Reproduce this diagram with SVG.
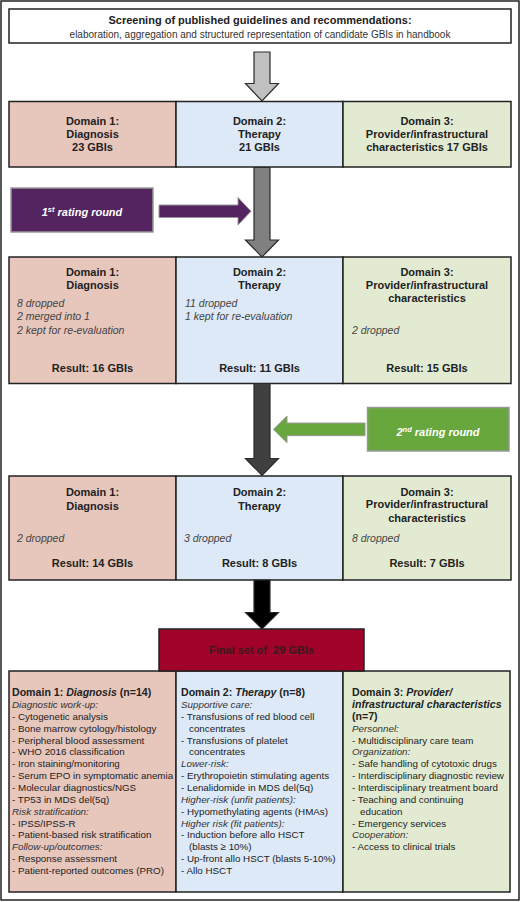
<svg xmlns="http://www.w3.org/2000/svg" width="520" height="902" viewBox="0 0 520 902">
<defs>
<style>
text{font-family:"Liberation Sans",Arial,Helvetica,sans-serif;}
.box{stroke:#222;stroke-width:1.5;}
.d1{fill:#e7c6bc;}
.d2{fill:#dde9f7;}
.d3{fill:#e2ebd2;}
.h{font-size:11px;font-weight:bold;fill:#222;text-anchor:middle;}
.it{font-size:10.5px;font-style:italic;fill:#444;}
.lst{font-size:9.8px;fill:#222;}
.i{font-style:italic;fill:#333;}
.b{font-weight:bold;font-size:10.6px;}
.bi{font-weight:bold;font-style:italic;font-size:10.6px;}
.arr{stroke:#2a2a2a;stroke-width:1.2;stroke-linejoin:miter;}
</style>
</defs>
<rect x="1" y="1" width="518" height="899" fill="#fff" stroke="#222" stroke-width="1.5"/>

<g id="screening">
<rect x="9" y="9" width="502" height="34" fill="#fff" class="box"/>
<text x="260" y="24" class="h">Screening of published guidelines and recommendations:</text>
<text x="260" y="37.5" font-size="10px" fill="#333" text-anchor="middle">elaboration, aggregation and structured representation of candidate GBIs in handbook</text>
</g>

<g id="row1">
<g id="r1d1"><rect x="9" y="101.5" width="167" height="65.5" class="box d1"/>
<text class="h" x="92.5" y="124.7">Domain 1:</text><text class="h" x="92.5" y="138">Diagnosis</text><text class="h" x="92.5" y="151.3">23 GBIs</text></g>
<g id="r1d2"><rect x="176" y="101.5" width="167" height="65.5" class="box d2"/>
<text class="h" x="259.5" y="124.7">Domain 2:</text><text class="h" x="259.5" y="138">Therapy</text><text class="h" x="259.5" y="151.3">21 GBIs</text></g>
<g id="r1d3"><rect x="343" y="101.5" width="168" height="65.5" class="box d3"/>
<text class="h" x="427" y="124.7">Domain 3:</text><text class="h" x="427" y="138">Provider/infrastructural</text><text class="h" x="427" y="151.3">characteristics 17 GBIs</text></g>
</g>

<g id="round1">
<rect x="11" y="188" width="142" height="44" fill="#53245f" stroke="#999" stroke-width="1.5"/>
<text x="82" y="216" fill="#fff" font-size="11px" font-weight="bold" font-style="italic" text-anchor="middle">1<tspan font-size="7.5px" dy="-4">st</tspan><tspan dy="4"> rating round</tspan></text>
</g>

<g id="round2">
<rect x="367.5" y="407.5" width="141.5" height="43.5" fill="#68a73d" stroke="#999" stroke-width="1.5"/>
<text x="438" y="435.5" fill="#fff" font-size="11px" font-weight="bold" font-style="italic" text-anchor="middle">2<tspan font-size="7.5px" dy="-4">nd</tspan><tspan dy="4"> rating round</tspan></text>
</g>

<g id="row2">
<g id="r2d1"><rect x="9" y="257" width="167" height="126.5" class="box d1"/>
<text class="h" x="92.5" y="275.7">Domain 1:</text><text class="h" x="92.5" y="289">Diagnosis</text>
<text class="it" x="17" y="307">8 dropped</text><text class="it" x="17" y="320.4">2 merged into 1</text><text class="it" x="17" y="333.8">2 kept for re-evaluation</text>
<text class="h" x="92.5" y="371.7">Result: 16 GBIs</text></g>
<g id="r2d2"><rect x="176" y="257" width="167" height="126.5" class="box d2"/>
<text class="h" x="259.5" y="275.7">Domain 2:</text><text class="h" x="259.5" y="289">Therapy</text>
<text class="it" x="185" y="307">11 dropped</text><text class="it" x="185" y="320.4">1 kept for re-evaluation</text>
<text class="h" x="259.5" y="371.7">Result: 11 GBIs</text></g>
<g id="r2d3"><rect x="343" y="257" width="168" height="126.5" class="box d3"/>
<text class="h" x="427" y="275.7">Domain 3:</text><text class="h" x="427" y="289">Provider/infrastructural</text><text class="h" x="427" y="302.3">characteristics</text>
<text class="it" x="352" y="333.8">2 dropped</text>
<text class="h" x="427" y="371.7">Result: 15 GBIs</text></g>
</g>

<g id="row3">
<g id="r3d1"><rect x="9" y="476" width="167" height="104" class="box d1"/>
<text class="h" x="92.5" y="495.7">Domain 1:</text><text class="h" x="92.5" y="510">Diagnosis</text>
<text class="it" x="17" y="542">2 dropped</text>
<text class="h" x="92.5" y="567.3">Result: 14 GBIs</text></g>
<g id="r3d2"><rect x="176" y="476" width="167" height="104" class="box d2"/>
<text class="h" x="259.5" y="495.7">Domain 2:</text><text class="h" x="259.5" y="510">Therapy</text>
<text class="it" x="184" y="542">3 dropped</text>
<text class="h" x="259.5" y="567.3">Result: 8 GBIs</text></g>
<g id="r3d3"><rect x="343" y="476" width="168" height="104" class="box d3"/>
<text class="h" x="427" y="495.7">Domain 3:</text><text class="h" x="427" y="508.3">Provider/infrastructural</text><text class="h" x="427" y="521.7">characteristics</text>
<text class="it" x="352" y="542">8 dropped</text>
<text class="h" x="427" y="567.3">Result: 7 GBIs</text></g>
</g>

<g id="final-lists">
<g id="f1"><rect x="9" y="671" width="167" height="221" class="box d1"/>
<text class="lst" x="12" y="696.2"><tspan class="b">Domain 1: </tspan><tspan class="bi">Diagnosis</tspan><tspan class="b"> (n=14)</tspan>
<tspan x="12" dy="11.85" class="i">Diagnostic work-up:</tspan>
<tspan x="12" dy="11.85">- Cytogenetic analysis</tspan>
<tspan x="12" dy="11.85">- Bone marrow cytology/histology</tspan>
<tspan x="12" dy="11.85">- Peripheral blood assessment</tspan>
<tspan x="12" dy="11.85">- WHO 2016 classification</tspan>
<tspan x="12" dy="11.85">- Iron staining/monitoring</tspan>
<tspan x="12" dy="11.85">- Serum EPO in symptomatic anemia</tspan>
<tspan x="12" dy="11.85">- Molecular diagnostics/NGS</tspan>
<tspan x="12" dy="11.85">- TP53 in MDS del(5q)</tspan>
<tspan x="12" dy="11.85" class="i">Risk stratification:</tspan>
<tspan x="12" dy="11.85">- IPSS/IPSS-R</tspan>
<tspan x="12" dy="11.85">- Patient-based risk stratification</tspan>
<tspan x="12" dy="11.85" class="i">Follow-up/outcomes:</tspan>
<tspan x="12" dy="11.85">- Response assessment</tspan>
<tspan x="12" dy="11.85">- Patient-reported outcomes (PRO)</tspan></text></g>
<g id="f2"><rect x="176" y="671" width="167" height="221" class="box d2"/>
<text class="lst" x="181" y="696.2"><tspan class="b">Domain 2: </tspan><tspan class="bi">Therapy</tspan><tspan class="b"> (n=8)</tspan>
<tspan x="181" dy="11.85" class="i">Supportive care:</tspan>
<tspan x="181" dy="11.85">- Transfusions of red blood cell</tspan>
<tspan x="189" dy="11.85">concentrates</tspan>
<tspan x="181" dy="11.85">- Transfusions of platelet</tspan>
<tspan x="189" dy="11.85">concentrates</tspan>
<tspan x="181" dy="11.85" class="i">Lower-risk:</tspan>
<tspan x="181" dy="11.85">- Erythropoietin stimulating agents</tspan>
<tspan x="181" dy="11.85">- Lenalidomide in MDS del(5q)</tspan>
<tspan x="181" dy="11.85" class="i">Higher-risk (unfit patients):</tspan>
<tspan x="181" dy="11.85">- Hypomethylating agents (HMAs)</tspan>
<tspan x="181" dy="11.85" class="i">Higher risk (fit patients):</tspan>
<tspan x="181" dy="11.85">- Induction before allo HSCT</tspan>
<tspan x="189" dy="11.85">(blasts ≥ 10%)</tspan>
<tspan x="181" dy="11.85">- Up-front allo HSCT (blasts 5-10%)</tspan>
<tspan x="181" dy="11.85">- Allo HSCT</tspan></text></g>
<g id="f3"><rect x="343" y="671" width="167" height="221" class="box d3"/>
<text class="lst" x="352" y="696.2"><tspan class="b">Domain 3: </tspan><tspan class="bi">Provider/</tspan>
<tspan x="352" dy="11.85" class="bi">infrastructural characteristics</tspan>
<tspan x="352" dy="11.85" class="b">(n=7)</tspan>
<tspan x="352" dy="11.85" class="i">Personnel:</tspan>
<tspan x="352" dy="11.85">- Multidisciplinary care team</tspan>
<tspan x="352" dy="11.85" class="i">Organization:</tspan>
<tspan x="352" dy="11.85">- Safe handling of cytotoxic drugs</tspan>
<tspan x="352" dy="11.85">- Interdisciplinary diagnostic review</tspan>
<tspan x="352" dy="11.85">- Interdisciplinary treatment board</tspan>
<tspan x="352" dy="11.85">- Teaching and continuing</tspan>
<tspan x="360" dy="11.85">education</tspan>
<tspan x="352" dy="11.85">- Emergency services</tspan>
<tspan x="352" dy="11.85" class="i">Cooperation:</tspan>
<tspan x="352" dy="11.85">- Access to clinical trials</tspan></text></g>
</g>

<g id="final">
<rect x="159" y="629" width="205" height="42" fill="#a10229" class="box"/>
<text x="261.5" y="654" class="h" fill="#3a1a1e" style="fill:#3a1a1e" xml:space="preserve">Final set of  29 GBIs</text>
</g>

<g id="connectors">
<polygon class="arr" fill="#c0c0c0" points="254,52 270,52 270,83.5 278.5,83.5 262,101 245.5,83.5 254,83.5"/>
<polygon class="arr" fill="#808080" points="254,167.5 270,167.5 270,240 278.5,240 262,257 245.5,240 254,240"/>
<polygon class="arr" fill="#404040" points="254,383.5 270,383.5 270,458.5 278.5,458.5 262,475.5 245.5,458.5 254,458.5"/>
<polygon class="arr" fill="#000" points="254,580 270,580 270,612.5 278.5,612.5 262,629 245.5,612.5 254,612.5"/>
<polygon fill="#53245f" stroke="#999" stroke-width="1" points="159,205 238,205 238,197.5 251,211.25 238,225 238,217.5 159,217.5"/>
<polygon fill="#68a73d" stroke="#999" stroke-width="1" points="365,423 287,423 287,416 273.5,429.3 287,442.7 287,435.7 365,435.7"/>
</g>
</svg>
